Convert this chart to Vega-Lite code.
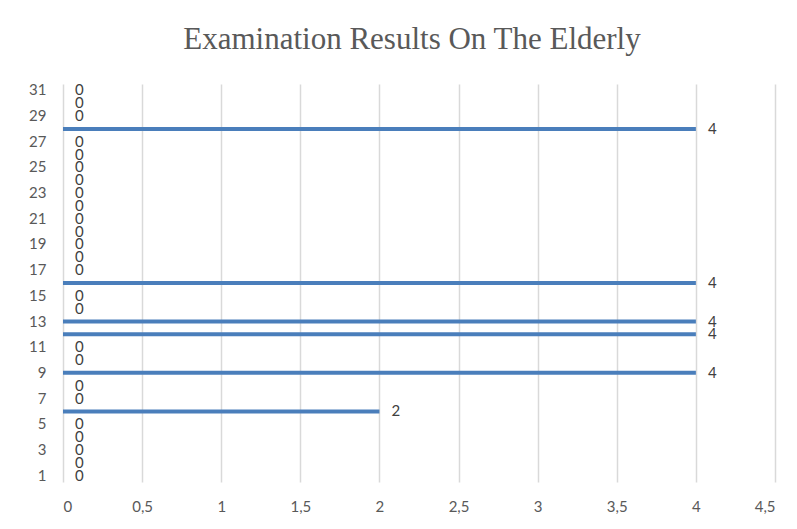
{
  "$schema": "https://vega.github.io/schema/vega-lite/v6.json",
  "width": 712,
  "height": 398,
  "autosize": {"type": "none"},
  "padding": {"left": 63, "top": 84, "right": 22, "bottom": 47},
  "background": "white",
  "title": {
    "text": "Examination Results On The Elderly",
    "font": "Liberation Serif",
    "fontSize": 31,
    "fontWeight": "normal",
    "color": "#595959",
    "offset": 27,
    "dx": -7
  },
  "data": {
    "values": [
      {"day": 1, "value": 0}, {"day": 2, "value": 0}, {"day": 3, "value": 0},
      {"day": 4, "value": 0}, {"day": 5, "value": 0}, {"day": 6, "value": 2},
      {"day": 7, "value": 0}, {"day": 8, "value": 0}, {"day": 9, "value": 4},
      {"day": 10, "value": 0}, {"day": 11, "value": 0}, {"day": 12, "value": 4},
      {"day": 13, "value": 4}, {"day": 14, "value": 0}, {"day": 15, "value": 0},
      {"day": 16, "value": 4}, {"day": 17, "value": 0}, {"day": 18, "value": 0},
      {"day": 19, "value": 0}, {"day": 20, "value": 0}, {"day": 21, "value": 0},
      {"day": 22, "value": 0}, {"day": 23, "value": 0}, {"day": 24, "value": 0},
      {"day": 25, "value": 0}, {"day": 26, "value": 0}, {"day": 27, "value": 0},
      {"day": 28, "value": 4}, {"day": 29, "value": 0}, {"day": 30, "value": 0},
      {"day": 31, "value": 0}
    ]
  },
  "encoding": {
    "y": {
      "field": "day",
      "type": "ordinal",
      "sort": "descending",
      "scale": {"paddingInner": 0, "paddingOuter": 0},
      "axis": {
        "title": null,
        "values": [1, 3, 5, 7, 9, 11, 13, 15, 17, 19, 21, 23, 25, 27, 29, 31],
        "ticks": false,
        "domain": false,
        "labelFont": "Lato",
        "labelFontSize": 15,
        "labelColor": "#595959",
        "labelPadding": 17
      }
    },
    "x": {
      "field": "value",
      "type": "quantitative",
      "scale": {"domain": [0, 4.5], "nice": false},
      "axis": {
        "title": null,
        "values": [0, 0.5, 1, 1.5, 2, 2.5, 3, 3.5, 4, 4.5],
        "labelExpr": "replace(toString(datum.value), '.', ',')",
        "ticks": false,
        "domain": false,
        "grid": true,
        "gridColor": "#d9d9d9",
        "gridWidth": 1.5,
        "labelFont": "Lato",
        "labelFontSize": 15,
        "labelColor": "#595959",
        "labelPadding": 17
      }
    }
  },
  "layer": [
    {"mark": {"type": "bar", "color": "#4a7ebb", "size": 4}},
    {
      "mark": {
        "type": "text",
        "align": "left",
        "baseline": "middle",
        "dx": 12,
        "font": "Lato",
        "fontSize": 15,
        "color": "#404040"
      },
      "encoding": {"text": {"field": "value", "type": "quantitative"}}
    }
  ],
  "config": {"view": {"stroke": null}}
}
